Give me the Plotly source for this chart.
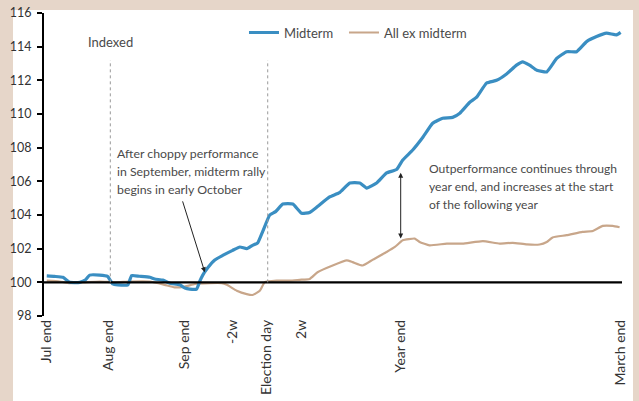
import plotly.graph_objects as go

# Trading days counted from end of July (day 0) through end of March
tick_days = [0, 18, 40, 54, 64, 74, 103, 167]
tick_labels = ["Jul end", "Aug end", "Sep end", "-2w", "Election day", "2w", "Year end", "March end"]

# Midterm-year average path (indexed to 100)
mid_days = [0, 2.3, 4.7, 6.7, 9.6, 11.3, 12.5, 15.4, 17.7, 19.2, 20.7, 23.6, 24.7, 27, 30,
            31.4, 33.8, 35.8, 38.7, 40.2, 41.6, 43.6, 44.5, 45.4, 46.8, 48.9, 51.2, 54.1,
            56.2, 58.2, 59.9, 61.4, 62.8, 64.9, 66.6, 68.7, 71.6, 74.2, 76.5, 78.8, 82.3,
            85.2, 88.2, 91.1, 93.1, 96, 98.9, 101.8, 103.6, 106.5, 109.4, 112.3, 115.2,
            118.1, 120.2, 123.1, 125.1, 128, 130.9, 133.8, 136.7, 138.5, 140.5, 142.6,
            145.5, 148.4, 151.3, 154.2, 157.1, 160, 162.9, 165.8, 167]
mid_vals = [100.38, 100.35, 100.3, 100.0, 100.0, 100.15, 100.43, 100.43, 100.35, 99.9, 99.85,
            99.85, 100.4, 100.36, 100.3, 100.2, 100.13, 99.95, 99.85, 99.66, 99.6, 99.6,
            100.05, 100.43, 100.85, 101.33, 101.6, 101.9, 102.1, 102.0, 102.2, 102.35, 103.0,
            104.0, 104.2, 104.65, 104.65, 104.1, 104.15, 104.5, 105.07, 105.33, 105.9, 105.9,
            105.6, 105.9, 106.5, 106.7, 107.27, 107.86, 108.6, 109.45, 109.75, 109.8, 110.05,
            110.7, 111.0, 111.84, 112.0, 112.38, 112.9, 113.1, 112.9, 112.6, 112.5, 113.3,
            113.7, 113.7, 114.3, 114.6, 114.8, 114.7, 114.85]

# Average path of all other years (indexed to 100)
oth_days = [0, 3.8, 6.7, 11, 15.4, 19.8, 24.1, 30, 34.3, 37.2, 40.2, 43.1, 47.4, 50.9, 52.4,
            55.3, 58.2, 59.9, 62, 63.4, 66.9, 70.7, 73.6, 76.5, 78.8, 83.2, 87.3, 89, 91.9,
            94.9, 98.9, 101.3, 103.6, 107.1, 108.5, 111.4, 116.4, 121, 126.9, 131.8, 135.6,
            139.7, 143.4, 145.5, 147.2, 151.3, 155.9, 158.9, 161.8, 164.7, 166.7]
oth_vals = [100.1, 100.05, 99.95, 100.0, 100.05, 100.0, 100.05, 100.05, 99.85, 99.7, 99.75,
            99.9, 99.95, 99.95, 99.85, 99.5, 99.3, 99.25, 99.5, 100.0, 100.1, 100.1, 100.15,
            100.2, 100.6, 101.0, 101.3, 101.2, 101.0, 101.35, 101.8, 102.1, 102.5, 102.6,
            102.4, 102.2, 102.3, 102.3, 102.45, 102.3, 102.35, 102.25, 102.25, 102.4, 102.67,
            102.8, 103.0, 103.05, 103.35, 103.35, 103.27]

y_ticks = [98, 100, 102, 104, 106, 108, 110, 112, 114, 116]

note_left = ["After choppy performance", "in September, midterm rally", "begins in early October"]
note_right = ["Outperformance continues through", "year end, and increases at the start",
              "of the following year"]

BLUE = "#3a8ec2"
TAN = "#c8a68a"
BEIGE = "#e6d6c9"
TXT = "#4a4a4a"
FONT = "Lato, Liberation Sans, sans-serif"

fig = go.Figure()

# "All ex midterm" first so the midterm line is drawn on top
fig.add_trace(go.Scatter(x=oth_days, y=oth_vals, mode="lines", name="All ex midterm",
                         legend="legend2", showlegend=True,
                         line=dict(color=TAN, width=2.2, shape="spline", smoothing=0.4)))
fig.add_trace(go.Scatter(x=mid_days, y=mid_vals, mode="lines", name="Midterm",
                         legend="legend", showlegend=True,
                         line=dict(color=BLUE, width=3.2, shape="spline", smoothing=0.4)))

shapes = [
    # white panel on the beige page
    dict(type="rect", xref="paper", yref="paper", x0=-0.0536, x1=1.0190, y0=-0.29, y1=1.0099,
         fillcolor="white", line=dict(width=0), layer="below"),
    # baseline at 100
    dict(type="line", xref="paper", yref="y", x0=0, x1=1, y0=100, y1=100,
         line=dict(color="black", width=2.2)),
    # dotted markers at Aug end and Election day
    dict(type="line", xref="x", yref="y", x0=tick_days[1] + 0.5, x1=tick_days[1] + 0.5,
         y0=100, y1=113.2, line=dict(color="#9a9a9a", width=1, dash="dot")),
    dict(type="line", xref="x", yref="y", x0=tick_days[4] + 0.3, x1=tick_days[4] + 0.3,
         y0=100, y1=113.2, line=dict(color="#9a9a9a", width=1, dash="dot")),
]

annotations = [
    dict(x=tick_days[1] + 0.5, y=114.25, xref="x", yref="y", text="Indexed", showarrow=False,
         font=dict(family=FONT, size=13, color=TXT)),
    dict(x=46.0, y=100.6, xref="x", yref="y", ax=39.4, ay=104.9, axref="x", ayref="y",
         showarrow=True, arrowhead=2, arrowsize=1, arrowwidth=1, arrowcolor="#222", text=""),
    dict(x=103.0, y=102.6, xref="x", yref="y", ax=103.0, ay=106.6, axref="x", ayref="y",
         showarrow=True, arrowhead=2, arrowside="end+start", arrowsize=1, arrowwidth=1,
         arrowcolor="#222", text=""),
]
# callout text, one annotation per line for even spacing
for i, line in enumerate(note_left):
    annotations.append(dict(x=19.9, y=107.68 - 1.07 * i, xref="x", yref="y", xanchor="left",
                            text=line, showarrow=False,
                            font=dict(family=FONT, size=12.3, color=TXT)))
for i, line in enumerate(note_right):
    annotations.append(dict(x=110.6, y=106.79 - 1.07 * i, xref="x", yref="y", xanchor="left",
                            text=line, showarrow=False,
                            font=dict(family=FONT, size=12.1, color=TXT)))

legend_common = dict(orientation="h", y=0.985, xanchor="left", yanchor="top",
                     bgcolor="rgba(0,0,0,0)", itemwidth=30,
                     font=dict(family=FONT, size=13, color=TXT))

fig.update_layout(
    width=639, height=401,
    margin=dict(l=44, r=17, t=13, b=85, autoexpand=False),
    paper_bgcolor=BEIGE, plot_bgcolor="white",
    font=dict(family=FONT, size=13, color=TXT),
    showlegend=True,
    shapes=shapes, annotations=annotations,
    legend=dict(x=0.346, **legend_common),
    legend2=dict(x=0.519, **legend_common),
    xaxis=dict(range=[-0.8, 167.4], tickvals=tick_days, ticktext=tick_labels, tickangle=-90,
               showgrid=False, zeroline=False, showline=False, ticks="", automargin=False,
               tickfont=dict(family=FONT, size=14, color="#333"), fixedrange=True),
    yaxis=dict(range=[98, 116], tickvals=y_ticks, showgrid=False, zeroline=False,
               showline=True, linecolor="black", linewidth=2, ticks="outside", ticklen=5,
               tickwidth=2, tickcolor="black", automargin=False, ticklabelstandoff=3,
               tickfont=dict(family=FONT, size=12.5, color="#333"), fixedrange=True),
)

fig.write_html("out.html")
